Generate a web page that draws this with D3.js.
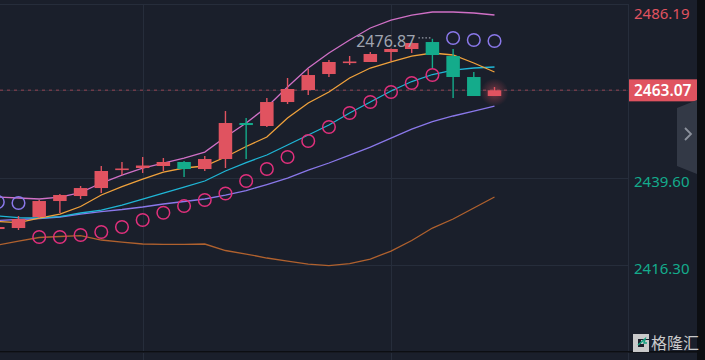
<!DOCTYPE html>
<html>
<head>
<meta charset="utf-8">
<script src="https://cdn.jsdelivr.net/npm/d3@7"></script>
<style>
  html, body { margin: 0; padding: 0; background: #1a1f2b; }
  svg { display: block; }
</style>
</head>
<body>
<svg id="chart" width="705" height="360"></svg>
<script>
// candle data (index 0 is cut by the left edge)
const open  = [2425.93, 2426.20, 2429.15, 2433.43, 2434.77, 2436.91, 2441.87, 2442.27, 2442.81, 2443.88, 2442.00, 2444.68, 2454.32, 2453.52, 2459.94, 2463.16, 2467.44, 2470.52, 2470.66, 2473.33, 2474.14, 2476.01, 2472.26, 2466.64, 2461.55];
const close = [2426.47, 2428.61, 2433.43, 2435.04, 2436.91, 2441.47, 2442.14, 2442.94, 2443.88, 2442.00, 2444.68, 2454.32, 2453.78, 2459.94, 2463.43, 2467.17, 2470.66, 2470.79, 2472.80, 2474.14, 2475.74, 2472.53, 2466.64, 2461.55, 2463.07];
const high  = [2426.74, 2429.42, 2433.70, 2435.31, 2437.45, 2442.81, 2443.88, 2445.22, 2444.95, 2444.14, 2445.48, 2457.53, 2455.66, 2461.02, 2466.37, 2468.78, 2471.19, 2472.26, 2473.33, 2474.27, 2476.01, 2476.87, 2474.14, 2467.98, 2463.96];
const low   = [2425.67, 2425.67, 2428.88, 2430.22, 2433.97, 2435.57, 2440.39, 2440.93, 2441.47, 2439.86, 2441.47, 2442.27, 2444.68, 2453.25, 2459.41, 2461.82, 2466.64, 2469.85, 2470.66, 2470.92, 2473.07, 2469.05, 2461.02, 2461.55, 2461.55];

// indicator lines
const upperBand = [2434.50, 2434.24, 2433.97, 2434.50, 2435.71, 2438.25, 2440.39, 2442.27, 2443.61, 2444.95, 2446.55, 2450.57, 2454.32, 2458.61, 2463.96, 2469.05, 2473.07, 2476.55, 2479.76, 2481.90, 2483.24, 2484.05, 2484.05, 2483.78, 2483.24];
const maOrange  = [2427.94, 2427.67, 2428.88, 2429.95, 2431.96, 2435.04, 2437.31, 2439.32, 2441.20, 2442.27, 2442.81, 2445.22, 2448.03, 2450.57, 2455.66, 2459.68, 2462.62, 2466.37, 2469.05, 2470.66, 2472.26, 2473.07, 2472.53, 2470.39, 2467.98];
const maCyan    = [2429.42, 2429.01, 2428.88, 2429.28, 2430.22, 2431.02, 2432.36, 2433.97, 2435.57, 2437.18, 2438.79, 2441.47, 2443.74, 2445.75, 2448.43, 2451.11, 2453.78, 2457.00, 2459.94, 2462.89, 2465.43, 2467.31, 2468.51, 2469.05, 2469.32];
const maPurple  = [2428.21, 2428.48, 2428.75, 2429.15, 2429.95, 2430.62, 2431.16, 2431.83, 2432.63, 2433.30, 2433.97, 2435.04, 2436.24, 2437.85, 2439.59, 2441.73, 2443.61, 2445.75, 2447.89, 2450.30, 2452.71, 2454.72, 2456.20, 2457.53, 2458.87];
const lowerBand = [2421.65, 2422.72, 2423.66, 2423.93, 2424.19, 2422.99, 2422.45, 2421.92, 2421.84, 2421.84, 2421.92, 2420.18, 2419.24, 2418.17, 2417.36, 2416.56, 2416.11, 2416.69, 2417.90, 2420.04, 2422.85, 2426.20, 2428.61, 2431.56, 2434.50];

// parabolic SAR dots, above = dot over price
const sar      = [2433.16, 2432.90, 2423.79, 2423.79, 2424.33, 2425.13, 2426.47, 2428.34, 2430.30, 2432.09, 2433.70, 2435.44, 2438.79, 2442.00, 2445.22, 2449.50, 2453.25, 2457.00, 2459.94, 2462.62, 2465.03, 2467.17, 2477.08, 2476.55, 2476.28];
const sarAbove = [true, true, false, false, false, false, false, false, false, false, false, false, false, false, false, false, false, false, false, false, false, false, true, true, true];

const gridTicks = [2486.19, 2463.07, 2439.60, 2416.30, 2393.00];
const axisLabels = [2486.19, 2439.60, 2416.30];
const lastPrice = 2463.07;
const maxHigh = 2476.87;
const timeGridIdx = [7, 19];

const svg = d3.select("#chart");
const W = 705, H = 360;
const plotRight = 628;

const x = d3.scaleLinear().domain([0, 24]).range([-2.2, 494.5]);
const y = d3.scaleLinear().domain([2416.30, 2486.19]).range([265, 4]);

const RED = "#e05360", GREEN = "#14ab8b";

svg.append("rect").attr("width", W).attr("height", H).attr("fill", "#1a1f2b");

const defs = svg.append("defs");
defs.append("clipPath").attr("id", "plotClip")
  .append("rect").attr("x", 0).attr("y", 0).attr("width", plotRight).attr("height", 352);
const glow = defs.append("radialGradient").attr("id", "glow");
glow.append("stop").attr("offset", "0%").attr("stop-color", RED).attr("stop-opacity", 0.45);
glow.append("stop").attr("offset", "100%").attr("stop-color", RED).attr("stop-opacity", 0);

// grid
const grid = svg.append("g").attr("stroke", "#262d3b").attr("stroke-width", 1);
grid.selectAll(".hg").data(gridTicks).enter().append("line")
  .attr("x1", 0).attr("x2", plotRight)
  .attr("y1", d => Math.round(y(d)) + 0.5).attr("y2", d => Math.round(y(d)) + 0.5);
grid.selectAll(".vg").data(timeGridIdx).enter().append("line")
  .attr("x1", d => Math.round(x(d)) + 0.5).attr("x2", d => Math.round(x(d)) + 0.5)
  .attr("y1", 4).attr("y2", H);
grid.append("line").attr("x1", plotRight + 0.5).attr("x2", plotRight + 0.5).attr("y1", 4).attr("y2", H);

const plot = svg.append("g").attr("clip-path", "url(#plotClip)");

// last price dashed line
plot.append("line")
  .attr("x1", 0).attr("x2", plotRight)
  .attr("y1", y(lastPrice)).attr("y2", y(lastPrice))
  .attr("stroke", "#6e3a48").attr("stroke-width", 1.5).attr("stroke-dasharray", "3,4");

// indicator lines
const idx = d3.range(25);
const lineGen = arr => d3.line().x(i => x(i)).y(i => y(arr[i]))(idx);
[
  [lowerBand, "#b0612e"],
  [maPurple, "#8a78ea"],
  [maCyan, "#1fb6d6"],
  [maOrange, "#f0a23c"],
  [upperBand, "#d070c6"]
].forEach(([arr, col]) => {
  plot.append("path").attr("d", lineGen(arr))
    .attr("fill", "none").attr("stroke", col).attr("stroke-width", 1.3);
});

// candles
const bw = 13.5;
plot.append("circle").attr("cx", x(24)).attr("cy", y(lastPrice) + 2).attr("r", 14).attr("fill", "url(#glow)");
const candles = plot.selectAll(".candle").data(idx).enter().append("g").attr("class", "candle");
candles.append("line")
  .attr("x1", i => x(i)).attr("x2", i => x(i))
  .attr("y1", i => y(high[i])).attr("y2", i => y(low[i]))
  .attr("stroke", i => close[i] >= open[i] ? RED : GREEN).attr("stroke-width", 1.4);
candles.append("rect")
  .attr("x", i => x(i) - bw / 2).attr("width", bw)
  .attr("y", i => y(Math.max(open[i], close[i])))
  .attr("height", i => Math.max(1.6, Math.abs(y(open[i]) - y(close[i]))))
  .attr("fill", i => close[i] >= open[i] ? RED : GREEN);

// SAR circles
plot.selectAll(".sar").data(idx).enter().append("circle")
  .attr("cx", i => x(i)).attr("cy", i => y(sar[i])).attr("r", 6.3)
  .attr("fill", "none").attr("stroke-width", 1.5)
  .attr("stroke", i => sarAbove[i] ? "#8a78ea" : "#e0307c");

// max high note
const hiIdx = high.indexOf(maxHigh);
plot.append("line")
  .attr("x1", x(hiIdx) - 14).attr("x2", x(hiIdx) - 1)
  .attr("y1", y(maxHigh) - 1).attr("y2", y(maxHigh) - 1)
  .attr("stroke", "#9aa0ac").attr("stroke-width", 1.2).attr("stroke-dasharray", "1.5,2");
plot.append("text")
  .attr("x", x(hiIdx) - 17).attr("y", y(maxHigh) + 8)
  .attr("text-anchor", "end")
  .attr("font-family", "Noto Sans, sans-serif").attr("font-size", 16)
  .attr("fill", "#a0a5b0").text(maxHigh.toFixed(2));

// right axis (last-price tick is covered by the price tag)
const axis = svg.append("g").attr("transform", `translate(${plotRight},0)`)
  .call(d3.axisRight(y).tickValues(axisLabels).tickSize(0).tickPadding(6).tickFormat(d3.format(".2f")));
axis.select(".domain").remove();
axis.selectAll("text")
  .attr("font-family", "Noto Sans, sans-serif").attr("font-size", 15)
  .attr("fill", d => d > lastPrice ? RED : GREEN)
  .attr("dy", (d, i) => i === 0 ? "0.95em" : "0.55em");

// last price tag
svg.append("rect").attr("x", 629).attr("y", y(lastPrice) - 11).attr("width", 68).attr("height", 22).attr("fill", RED);
svg.append("text").attr("x", 634).attr("y", y(lastPrice)).attr("dy", "0.36em")
  .attr("font-family", "Noto Sans, sans-serif").attr("font-size", 15.5).attr("font-weight", 600)
  .attr("fill", "#ffffff").text(lastPrice.toFixed(2));

// collapse tab
svg.append("path").attr("d", "M697,100 L677,108 L677,166 L697,174 Z").attr("fill", "#333946");
svg.append("path").attr("d", "M685,128 L691,134 L685,140").attr("fill", "none")
  .attr("stroke", "#8c919c").attr("stroke-width", 1.8);

// frame strips
svg.append("rect").attr("x", 697).attr("y", 0).attr("width", 8).attr("height", H).attr("fill", "#0c0e12");
svg.append("rect").attr("x", 0).attr("y", 351).attr("width", 697).attr("height", 1.6).attr("fill", "#0c0e12");

// watermark
const wm = svg.append("g").attr("opacity", 0.9);
wm.append("path").attr("d", "M633,334 h16 v5 h-11 v8 h6 v-3 h-3 v-4 h8 v12 h-16 Z").attr("fill", "#dcdcdc");
wm.append("path").attr("d", "M638,345 l7,-6 l-1,4 l3,0").attr("fill", "none").attr("stroke", "#17b08c").attr("stroke-width", 1.6);
wm.append("text").attr("x", 651).attr("y", 349)
  .attr("font-family", "Noto Sans CJK SC, sans-serif").attr("font-size", 16)
  .attr("fill", "#dcdcdc").text("格隆汇");
</script>
</body>
</html>
